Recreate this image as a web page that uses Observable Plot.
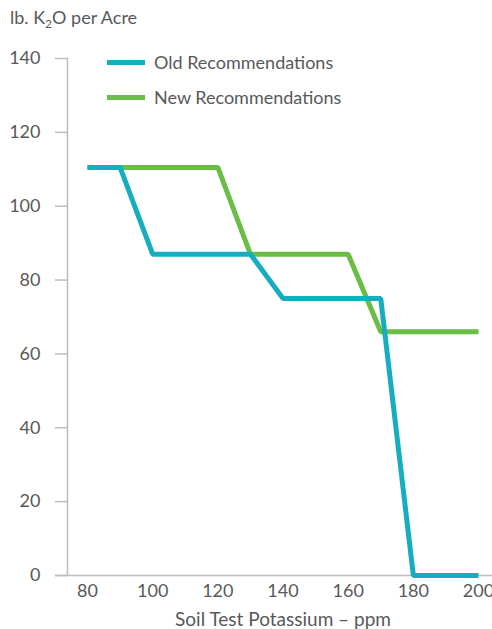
<!DOCTYPE html>
<html>
<head>
<meta charset="utf-8">
<script src="https://cdn.jsdelivr.net/npm/d3@7"></script>
<script src="https://cdn.jsdelivr.net/npm/@observablehq/plot@0.6"></script>
<style>
  html, body { margin: 0; padding: 0; background: #fff; }
  #wrap { position: relative; width: 492px; height: 629px; overflow: hidden; font-family: Lato, "Open Sans", sans-serif; color: #58595b; }
  #ytitle { position: absolute; left: 10px; top: 6px; font-size: 18px; white-space: nowrap; }
  #ytitle sub { font-size: 12px; vertical-align: -4px; line-height: 0; }
  .leg { position: absolute; left: 107px; font-size: 18px; white-space: nowrap; display: flex; align-items: center; }
  .leg .sw { display: inline-block; width: 38px; height: 5px; margin-right: 9px; }
</style>
</head>
<body>
<div id="wrap">
  <div id="chart"></div>
  <div id="ytitle">lb. K<sub>2</sub>O per Acre</div>
  <div class="leg" style="top:51px"><span class="sw" style="background:#16aebf"></span>Old Recommendations</div>
  <div class="leg" style="top:86px"><span class="sw" style="background:#6abd45"></span>New Recommendations</div>
</div>
<script>
const oldPotassium = [80, 90, 100, 130, 140, 170, 180, 200];
const oldRecommendations = [110.5, 110.5, 87, 87, 75, 75, 0, 0];
const newPotassium = [80, 120, 130, 160, 170, 200];
const newRecommendations = [110.5, 110.5, 87, 87, 66, 66];
const xTicks = [80, 100, 120, 140, 160, 180, 200];
const yTicks = [0, 20, 40, 60, 80, 100, 120, 140];
const seriesNames = ["Old Recommendations", "New Recommendations"];
const seriesColors = ["#16aebf", "#6abd45"];

const oldData = oldPotassium.map((x, i) => ({x, y: oldRecommendations[i]}));
const newData = newPotassium.map((x, i) => ({x, y: newRecommendations[i]}));

const chart = Plot.plot({
  width: 492,
  height: 629,
  marginLeft: 87,
  marginRight: 14,
  marginTop: 58,
  marginBottom: 54,
  style: {fontFamily: "Lato, 'Open Sans', sans-serif", fontSize: "18px", color: "#58595b", overflow: "visible"},
  x: {domain: [80, 200]},
  y: {domain: [0, 140]},
  marks: [
    Plot.frame({anchor: "left", dx: -20, stroke: "#bdbdbd", strokeWidth: 1.5}),
    Plot.axisY(yTicks, {tickSize: 12, dx: -20, tickPadding: 15, stroke: "#bdbdbd", strokeWidth: 1.5, label: null, fill: "#58595b", fontSize: 18}),
    Plot.axisX(xTicks, {tickSize: 0, tickPadding: 9, label: null, fill: "#58595b", fontSize: 18}),
    Plot.ruleY([0], {stroke: "#bdbdbd", strokeWidth: 1.5, insetLeft: -32, insetRight: -14}),
    Plot.text([`Soil Test Potassium – ppm`], {frameAnchor: "bottom", lineAnchor: "middle", dy: 44, fontSize: 19, fill: "#58595b"}),
    Plot.line(newData, {x: "x", y: "y", stroke: seriesColors[1], strokeWidth: 5, strokeLinejoin: "miter", strokeLinecap: "butt"}),
    Plot.line(oldData, {x: "x", y: "y", stroke: seriesColors[0], strokeWidth: 5, strokeLinejoin: "miter", strokeLinecap: "butt"})
  ]
});
document.getElementById("chart").appendChild(chart);
</script>
</body>
</html>
